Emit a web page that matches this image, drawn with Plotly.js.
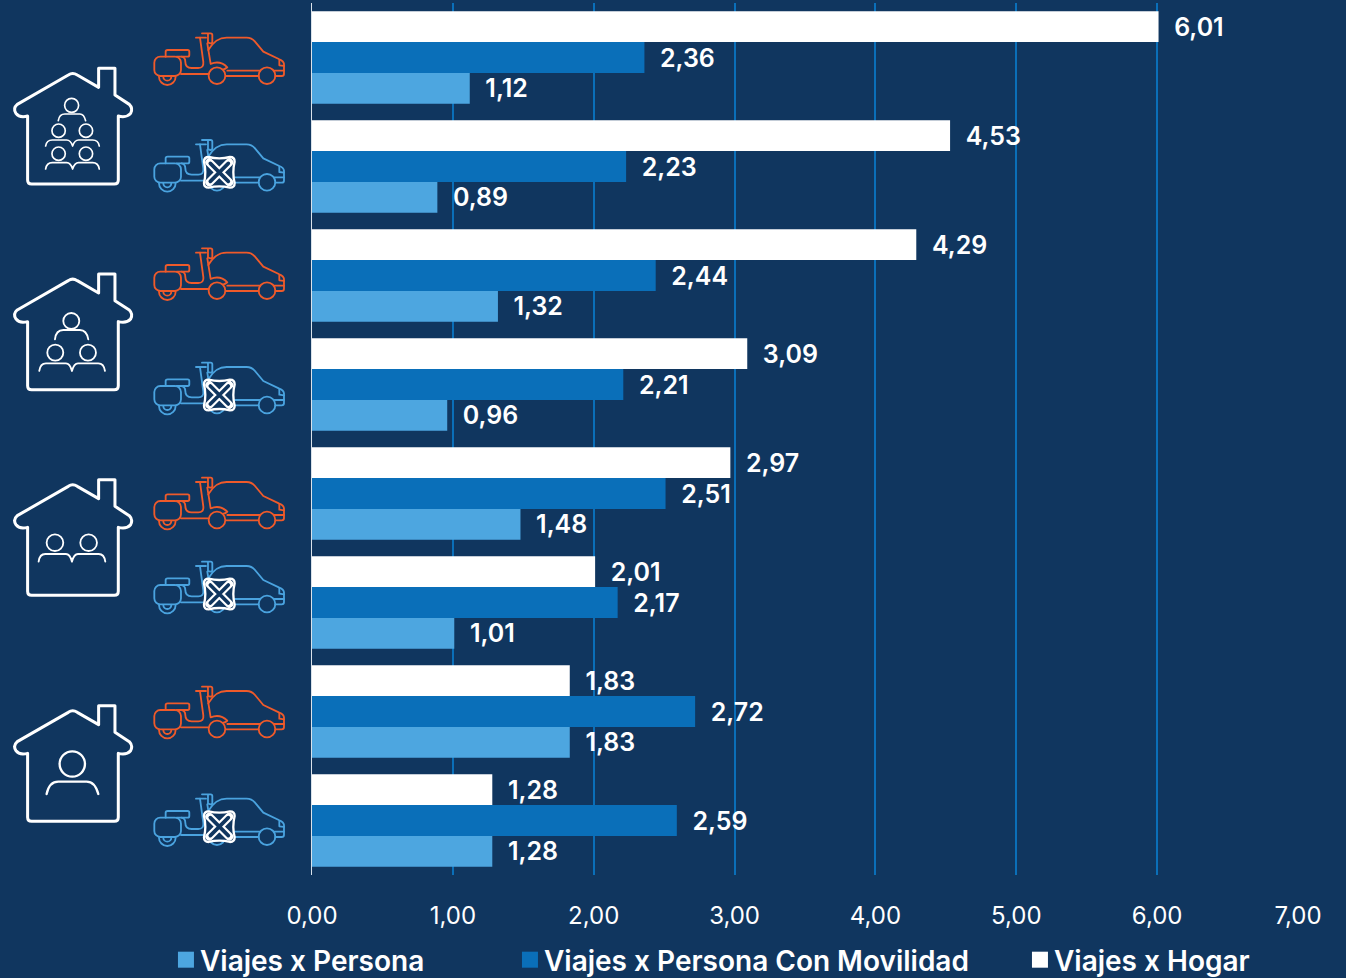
<!DOCTYPE html>
<html><head><meta charset="utf-8">
<script src="https://cdn.plot.ly/plotly-3.0.1.min.js"></script>
<style>html,body{margin:0;padding:0;background:#10365f}#chart{width:1346px;height:978px}</style>
</head><body><div id="chart"></div>
<script>
// listed bottom to top, as the y axis runs
const categories = ['1 persona, sin vehículo','1 persona, con vehículo','2 personas, sin vehículo','2 personas, con vehículo','3 personas, sin vehículo','3 personas, con vehículo','4+ personas, sin vehículo','4+ personas, con vehículo'];
const viajesPersona = [1.28,1.83,1.01,1.48,0.96,1.32,0.89,1.12];
const viajesMovilidad = [2.59,2.72,2.17,2.51,2.21,2.44,2.23,2.36];
const viajesHogar = [1.28,1.83,2.01,2.97,3.09,4.29,4.53,6.01];
const tickVals = [0,1,2,3,4,5,6,7];

const NAVY='#10365f', LIGHT='#4da6e0', MID='#0a6fb9', ORANGE='#ef5a2a', ICONBLUE='#4aa3df';
const W=1346,H=978,M={l:312,r:48.2,t:3,b:103,pad:0,autoexpand:false};
const pw=W-M.l-M.r, ph=H-M.t-M.b;

function svgUri(vbW,vbH,w,h,body){
  const s=`<svg xmlns="http://www.w3.org/2000/svg" width="${w}" height="${h}" viewBox="0 0 ${vbW} ${vbH}">${body}</svg>`;
  return 'data:image/svg+xml;base64,'+btoa(s);
}
function place(src,x,y,w,h){
  return {source:src,xref:'paper',yref:'paper',x:(x-M.l)/pw,y:1-(y-M.t)/ph,sizex:w/pw,sizey:h/ph,sizing:'stretch',xanchor:'left',yanchor:'top',layer:'above'};
}
// vehicle icon, drawn at 3x, crop origin 450,90
function vehicle(color,cross){
  let b=`<g transform="translate(-450,-90)" fill="none" stroke="${color}" stroke-width="5.5" stroke-linecap="round" stroke-linejoin="round">
  <path d="M625,150 C640,125 655,113 680,113 H740 Q755,113 765,125 L790,155 L838,178 Q851,183 852,192 V222 Q852,228 845,228 H826"/>
  <path d="M838,180 L838,196 L852,198"/>
  <path d="M776,228 H678 M682,212 H780 M822,212 H852"/>
  <circle cx="651" cy="227" r="25"/><circle cx="801" cy="227" r="25"/>
  <rect x="463" y="170" width="80" height="58" rx="18"/>
  <path d="M497,170 V155 Q497,150 503,150 H563 Q568,150 568,155 V165 Q568,170 563,170 H530"/>
  <path d="M477,230 A25,25 0 0 0 527,230 M490,230 A12,12 0 0 0 514,230"/>
  <path d="M543,222 H626"/>
  <path d="M545,170 Q556,172 556,185 Q556,204 575,204 H595 Q612,204 610,186 L600,113"/>
  <path d="M588,113 H618 M606,100 H632 Q637,100 637,105 V125 Q637,130 632,130 L624,128 V100"/>
  <path d="M622,130 L632,192 Q660,180 682,202 Q675,208 670,208"/>
  </g>`;
  if(cross){
    b+=`<g transform="translate(208,107)"><path d="M-32,-46 Q0,-38 32,-46 Q46,-46 46,-32 Q38,0 46,32 Q46,46 32,46 Q0,38 -32,46 Q-46,46 -46,32 Q-38,0 -46,-32 Q-46,-46 -32,-46 Z" fill="${NAVY}" stroke="#fff" stroke-width="7"/>
    <path d="M-30,-30 L30,30 M30,-30 L-30,30" stroke="#fff" stroke-width="24" stroke-linecap="round"/>
    <path d="M-27,-27 L27,27 M27,-27 L-27,27" stroke="${NAVY}" stroke-width="11" stroke-linecap="round"/></g>`;
  }
  return svgUri(420,175,140,58.33,b);
}
function pair(x1,xm,x2,yb,yt){
  return `<path d="M${x1},${yb} Q${x1+3},${yt} ${x1+20},${yt} H${xm-18} Q${xm-6},${yt} ${xm},${yb} Q${xm+6},${yt} ${xm+18},${yt} H${x2-20} Q${x2-3},${yt} ${x2},${yb}"/>`;
}
function house(people,sw){
  const body=`<g transform="translate(-30,-190)" fill="none" stroke="#fff" stroke-linecap="round" stroke-linejoin="round">
  <path stroke-width="9" d="M296,262 V205 H345 V285 L388,313 Q400,325 392,340 Q380,354 355,348 V540 Q355,552 343,552 H95 Q83,552 83,540 V348 Q58,354 48,340 Q38,325 52,313 L205,225 Q218,216 232,225 Z"/>
  <g stroke-width="${sw}">${people}</g></g>`;
  return svgUri(380,375,126.67,125,body);
}
const c=(x,y,r)=>`<circle cx="${x}" cy="${y}" r="${r}"/>`;
const house4 = house(c(215,316,21)+`<path d="M175,362 Q178,342 195,342 H240 Q252,342 257,362"/>`+c(176,392,20)+c(258,392,20)+pair(137,218,298,438,420)+c(176,461,20)+c(258,461,20)+pair(137,218,298,507,488),5);
const house3 = house(c(214,346,24)+`<path d="M165,401 Q168,373 190,373 H240 Q260,373 265,401"/>`+c(166,441,24)+c(264,441,24)+pair(118,216,315,496,473),5.5);
const house2 = house(c(165,394,25)+c(266,394,25)+pair(116,216,316,451,428),5.5);
const house1 = house(c(217,380,38)+`<path d="M140,470 Q148,433 175,433 H260 Q285,433 295,470"/>`,7);

const VX=150,V0=32.3-(97-90)/3;
const vOff=[0,106.7,215,329.4,444.4,528.4,653.4,761];
const houseTops=[67.7,273.3,479,705];
const images=[];
[house4,house3,house2,house1].forEach((s,i)=>images.push(place(s,10,houseTops[i]-13/3,126.67,125)));
const orange=vehicle(ORANGE,false), blue=vehicle(ICONBLUE,true);
vOff.forEach((d,i)=>images.push(place(i%2?blue:orange,VX,V0+d,140,58.33)));

const legendW={'Viajes x Persona':299,'Viajes x Persona Con Movilidad':465};
const mkTrace=(name,vals,color)=>({type:'bar',orientation:'h',name,y:categories,x:vals,legendwidth:legendW[name],
  marker:{color,line:{width:0}},text:vals,texttemplate:'\u00a0\u00a0%{x:.2f}',textposition:'outside',
  cliponaxis:false,textangle:0,constraintext:'none',
  textfont:{family:'Inter, sans-serif',size:25,color:'#fff',weight:600},hoverinfo:'skip'});
const data=[mkTrace('Viajes x Persona',viajesPersona,LIGHT),mkTrace('Viajes x Persona Con Movilidad',viajesMovilidad,MID),mkTrace('Viajes x Hogar',viajesHogar,'#ffffff')];

const layout={width:W,height:H,margin:M,paper_bgcolor:NAVY,plot_bgcolor:NAVY,separators:',.',
  barmode:'group',bargap:0.15,bargroupgap:0,images,showlegend:true,
  font:{family:'Inter, sans-serif',color:'#fff'},
  xaxis:{range:[0,7],tickvals:tickVals,tickformat:'.2f',showgrid:true,gridcolor:MID,gridwidth:2,zeroline:false,showline:false,
    ticks:'outside',ticklen:19,tickcolor:NAVY,tickfont:{family:'Inter, sans-serif',size:24,color:'#fff'}},
  yaxis:{showticklabels:false,ticks:'',showgrid:false,zeroline:false,showline:true,linecolor:'#d9e2ea',linewidth:1.5,type:'category'},
  legend:{orientation:'h',x:-0.1542,xanchor:'left',y:-0.0688,yanchor:'top',font:{family:'Inter, sans-serif',size:28,color:'#fff',weight:600},bgcolor:'rgba(0,0,0,0)',itemsizing:'constant'}
};
Plotly.newPlot('chart',data,layout,{displayModeBar:false,staticPlot:true}).then(gd=>{
  gd.querySelectorAll('.legend .legendpoints path').forEach(p=>p.setAttribute('d','M14,8H-2V-8H14Z'));
});
</script></body></html>
